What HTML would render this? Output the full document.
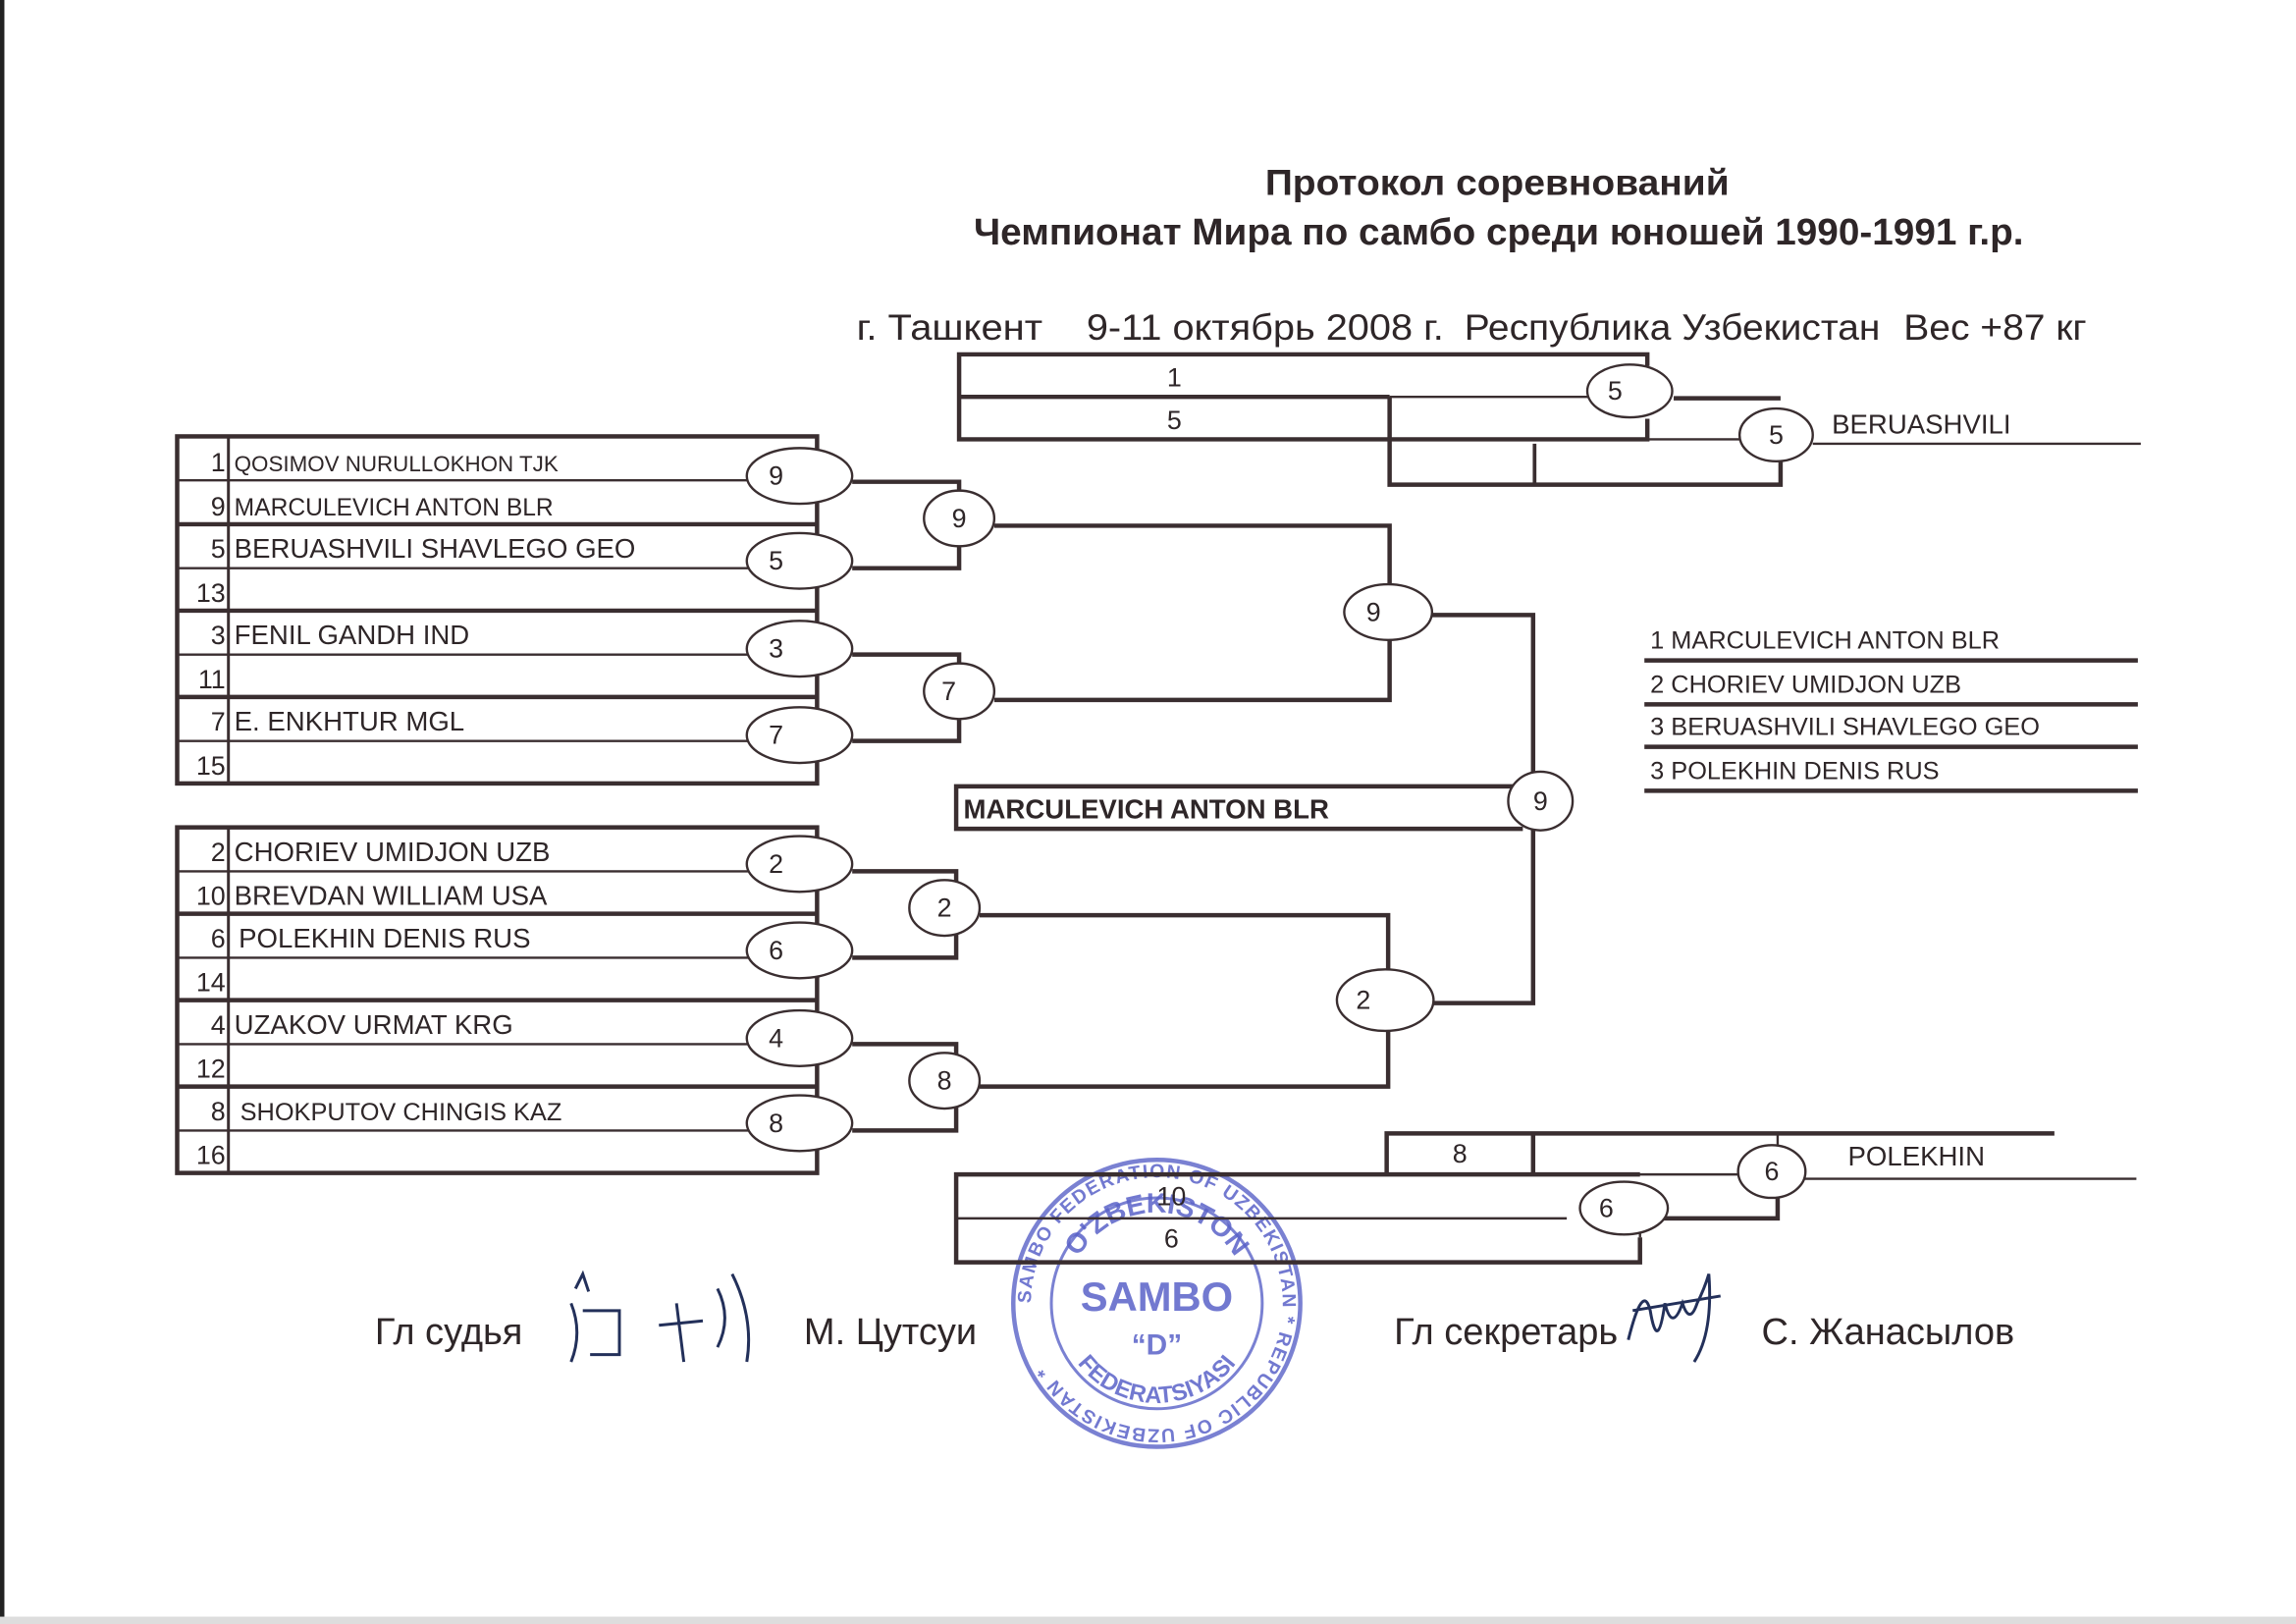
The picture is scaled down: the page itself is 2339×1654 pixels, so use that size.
<!DOCTYPE html>
<html><head><meta charset="utf-8"><style>
html,body{margin:0;padding:0;background:#fff;}
svg{display:block;}
text{font-family:"Liberation Sans",sans-serif;fill:#2e2628;}
</style></head><body>
<svg width="2339" height="1654" viewBox="0 0 1568 1109" preserveAspectRatio="none" xmlns="http://www.w3.org/2000/svg">
<defs>
<path id="outer" d="M790,890 m-86,0 a86,86 0 1,1 172,0 a86,86 0 1,1 -172,0"/>
<path id="innerTop" d="M728,890 a62,62 0 0,1 124,0"/>
<path id="innerBot" d="M722,890 a68,68 0 0,0 136,0"/>
</defs>
<rect x="0" y="0" width="1568" height="1109" fill="#fff"/>
<rect x="0" y="0" width="3" height="1109" fill="#222"/>
<rect x="0" y="1104" width="1568" height="5" fill="#ddd"/>

<!-- stamp (under the lines) -->
<g stroke="#5a62c8" fill="none" opacity="0.8">
<circle cx="790" cy="890" r="98" stroke-width="3"/>
<circle cx="790" cy="890" r="72" stroke-width="2"/>
</g>
<g opacity="0.85" font-weight="bold">
<text font-size="13" style="fill:#5a62c8" letter-spacing="1"><textPath href="#outer">SAMBO FEDERATION OF UZBEKISTAN * REPUBLIC OF UZBEKISTAN *</textPath></text>
<text font-size="19" style="fill:#5a62c8" text-anchor="middle"><textPath href="#innerTop" startOffset="50%">O'ZBEKISTON</textPath></text>
<text font-size="16" style="fill:#5a62c8" text-anchor="middle"><textPath href="#innerBot" startOffset="50%">FEDERATSIYASI</textPath></text>
<text x="790" y="895" font-size="28" text-anchor="middle" style="fill:#5a62c8">SAMBO</text>
<text x="790" y="925" font-size="20" text-anchor="middle" style="fill:#5a62c8">“D”</text>
</g>

<text x="864" y="133" font-size="25" font-weight="bold" textLength="317" lengthAdjust="spacingAndGlyphs">Протокол соревнований</text>
<text x="665" y="167" font-size="25.5" font-weight="bold" textLength="717" lengthAdjust="spacingAndGlyphs">Чемпионат Мира по самбо среди юношей 1990-1991 г.р.</text>
<g font-size="25">
<text x="585" y="232" textLength="127" lengthAdjust="spacingAndGlyphs">г. Ташкент</text>
<text x="742" y="232" textLength="244" lengthAdjust="spacingAndGlyphs">9-11 октябрь 2008 г.</text>
<text x="1000" y="232" textLength="284" lengthAdjust="spacingAndGlyphs">Республика Узбекистан</text>
<text x="1300" y="232" textLength="125" lengthAdjust="spacingAndGlyphs">Вес +87 кг</text>
</g>

<g stroke="#3a2e30" fill="none">
<rect x="121" y="298" width="437" height="237" stroke-width="3"/>
<line x1="156" y1="298" x2="156" y2="535" stroke-width="2"/>
<g stroke-width="3"><line x1="121" y1="358" x2="558" y2="358"/><line x1="121" y1="417" x2="558" y2="417"/><line x1="121" y1="476" x2="558" y2="476"/></g>
<g stroke-width="1.6"><line x1="121" y1="328" x2="512" y2="328"/><line x1="121" y1="388" x2="512" y2="388"/><line x1="121" y1="447" x2="512" y2="447"/><line x1="121" y1="506" x2="512" y2="506"/></g>
<rect x="121" y="565" width="437" height="236" stroke-width="3"/>
<line x1="156" y1="565" x2="156" y2="801" stroke-width="2"/>
<g stroke-width="3"><line x1="121" y1="624" x2="558" y2="624"/><line x1="121" y1="683" x2="558" y2="683"/><line x1="121" y1="742" x2="558" y2="742"/></g>
<g stroke-width="1.6"><line x1="121" y1="595" x2="512" y2="595"/><line x1="121" y1="654" x2="512" y2="654"/><line x1="121" y1="713" x2="512" y2="713"/><line x1="121" y1="772" x2="512" y2="772"/></g>

<g stroke-width="3">
<polyline points="582,329 655,329 655,388 582,388"/>
<polyline points="582,447 655,447 655,506 582,506"/>
<polyline points="582,595 653,595 653,654 582,654"/>
<polyline points="582,713 653,713 653,772 582,772"/>
<polyline points="679,359 949,359 949,478 679,478"/>
<polyline points="669,625 948,625 948,742 669,742"/>
<polyline points="978,420 1047,420 1047,685 978,685"/>
<polyline points="1040,537 653,537 653,566 1040,566"/>
<polyline points="1125,250 1125,242 655,242 655,300 1125,300 1125,286"/>
<line x1="655" y1="271" x2="949" y2="271"/>
<line x1="1143" y1="272" x2="1216" y2="272"/>
<polyline points="949,271 949,331 1216,331 1216,315"/>
<line x1="1048" y1="303" x2="1048" y2="331" stroke-width="2.5"/>
<polyline points="947,802 947,774 1403,774"/>
<line x1="1047" y1="774" x2="1047" y2="802"/>
<polyline points="1120,802 653,802 653,862 1120,862 1120,845"/>
<polyline points="1214,815 1214,832 1120,832"/>
<line x1="1123" y1="451" x2="1460" y2="451"/>
<line x1="1123" y1="481" x2="1460" y2="481"/>
<line x1="1123" y1="510" x2="1460" y2="510"/>
<line x1="1123" y1="540" x2="1460" y2="540"/>
</g>
<g stroke-width="1.6">
<line x1="949" y1="271" x2="1085" y2="271"/>
<line x1="1125" y1="300" x2="1188" y2="300"/>
<line x1="1238" y1="303" x2="1462" y2="303"/>
<line x1="1120" y1="832" x2="1120" y2="845"/>
<line x1="653" y1="832" x2="1070" y2="832"/>
<line x1="1047" y1="802" x2="1188" y2="802"/>
<line x1="1232" y1="805" x2="1459" y2="805"/>
<line x1="1214" y1="774" x2="1214" y2="785"/>
</g>
</g>

<g stroke="#3a2e30" stroke-width="1.6" fill="#fff">
<ellipse cx="546" cy="325" rx="36" ry="19"/><ellipse cx="546" cy="383" rx="36" ry="19"/>
<ellipse cx="546" cy="443" rx="36" ry="19"/><ellipse cx="546" cy="502" rx="36" ry="19"/>
<ellipse cx="546" cy="590" rx="36" ry="19"/><ellipse cx="546" cy="649" rx="36" ry="19"/>
<ellipse cx="546" cy="709" rx="36" ry="19"/><ellipse cx="546" cy="767" rx="36" ry="19"/>
<ellipse cx="655" cy="354" rx="24" ry="19"/><ellipse cx="655" cy="472" rx="24" ry="19"/>
<ellipse cx="645" cy="620" rx="24" ry="19"/><ellipse cx="645" cy="738" rx="24" ry="19"/>
<ellipse cx="948" cy="418" rx="30" ry="19"/><ellipse cx="946" cy="683" rx="33" ry="21"/>
<ellipse cx="1052" cy="547" rx="22" ry="20"/>
<ellipse cx="1113" cy="267" rx="29" ry="18"/><ellipse cx="1213" cy="297" rx="25" ry="18"/>
<ellipse cx="1109" cy="825" rx="30" ry="18"/><ellipse cx="1210" cy="800" rx="23" ry="18"/>
</g>
<g font-size="18" text-anchor="middle">
<text x="530" y="331">9</text><text x="530" y="389">5</text><text x="530" y="449">3</text><text x="530" y="508">7</text>
<text x="530" y="596">2</text><text x="530" y="655">6</text><text x="530" y="715">4</text><text x="530" y="773">8</text>
<text x="655" y="360">9</text><text x="648" y="478">7</text><text x="645" y="626">2</text><text x="645" y="744">8</text>
<text x="938" y="424">9</text><text x="931" y="689">2</text><text x="1052" y="553">9</text>
<text x="1103" y="273">5</text><text x="1213" y="303">5</text><text x="1097" y="831">6</text><text x="1210" y="806">6</text>
<text x="802" y="264">1</text><text x="802" y="293">5</text><text x="997" y="794">8</text>
<text x="800" y="823">10</text><text x="800" y="852">6</text>
</g>

<g font-size="18" text-anchor="end">
<text x="154" y="322">1</text><text x="154" y="352">9</text><text x="154" y="381">5</text><text x="154" y="411">13</text>
<text x="154" y="440">3</text><text x="154" y="470">11</text><text x="154" y="499">7</text><text x="154" y="529">15</text>
<text x="154" y="588">2</text><text x="154" y="618">10</text><text x="154" y="647">6</text><text x="154" y="677">14</text>
<text x="154" y="706">4</text><text x="154" y="736">12</text><text x="154" y="765">8</text><text x="154" y="795">16</text>
</g>
<g font-size="18.5">
<text x="160" y="322" font-size="15">QOSIMOV NURULLOKHON TJK</text>
<text x="160" y="352" font-size="16.5">MARCULEVICH ANTON BLR</text>
<text x="160" y="381">BERUASHVILI SHAVLEGO  GEO</text>
<text x="160" y="440">FENIL GANDH IND</text>
<text x="160" y="499">E. ENKHTUR MGL</text>
<text x="160" y="588">CHORIEV UMIDJON UZB</text>
<text x="160" y="618">BREVDAN WILLIAM USA</text>
<text x="163" y="647">POLEKHIN DENIS RUS</text>
<text x="160" y="706">UZAKOV URMAT KRG</text>
<text x="164" y="765" font-size="17">SHOKPUTOV CHINGIS KAZ</text>
<text x="658" y="559" font-weight="bold">MARCULEVICH ANTON BLR</text>
<text x="1251" y="296">BERUASHVILI</text>
<text x="1262" y="796">POLEKHIN</text>
<g font-size="17">
<text x="1127" y="443">1 MARCULEVICH ANTON BLR</text>
<text x="1127" y="473">2 CHORIEV UMIDJON UZB</text>
<text x="1127" y="502">3 BERUASHVILI SHAVLEGO  GEO</text>
<text x="1127" y="532">3 POLEKHIN DENIS RUS</text>
</g>
</g>

<g font-size="25.5">
<text x="256" y="918">Гл судья</text>
<text x="549" y="918">М. Цутсуи</text>
<text x="952" y="918">Гл секретарь</text>
<text x="1203" y="918">С. Жанасылов</text>
</g>
<g stroke="#23305a" stroke-width="2" fill="none">
<path d="M393,880 l5,-10 l4,12 M390,890 q8,20 0,40 M398,895 l25,0 l0,30 l-20,0 M450,905 l30,-3 M462,890 l5,40 M490,880 q10,20 0,40 M500,870 q15,30 10,60"/>
<path d="M1112,915 q10,-40 15,-20 q5,30 10,-5 q5,20 12,0 q5,15 10,0 q5,-10 8,-20 q3,40 -10,60 M1115,895 q30,-5 60,-10"/>
</g>
</svg>
</body></html>
